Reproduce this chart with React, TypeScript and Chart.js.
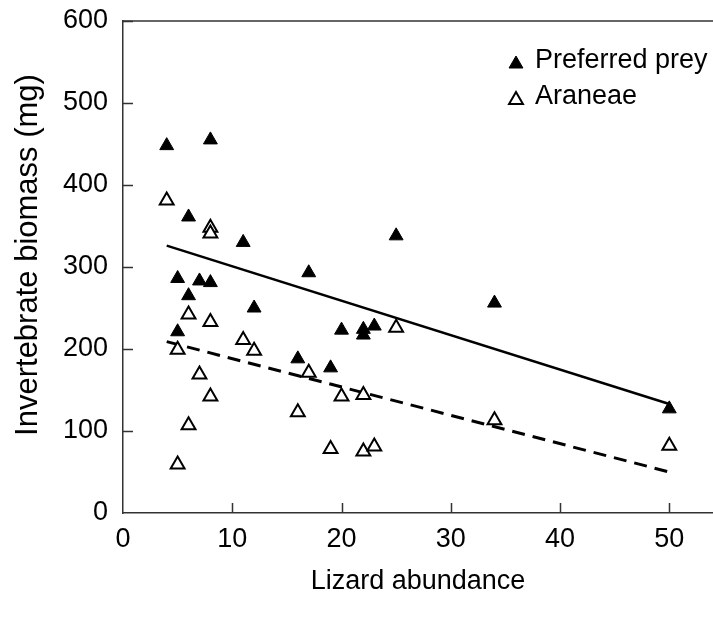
import React, { useEffect, useRef } from "react";
import { Chart, registerables } from "chart.js";

Chart.register(...registerables);

const preyX = [4, 8, 6, 11, 17, 5, 7, 8, 6, 12, 5, 16, 25, 34, 20, 22, 22, 23, 19, 50];
const preyY = [448, 455, 361, 330, 293, 286, 283, 281, 265, 250, 221, 188, 338, 256, 223, 224, 217, 228, 177, 127];

const araneaeX = [4, 8, 8, 6, 8, 11, 12, 5, 7, 8, 6, 5, 16, 17, 25, 20, 22, 19, 22, 23, 34, 50];
const araneaeY = [381, 348, 341, 242, 233, 211, 198, 199, 169, 142, 107, 59, 123, 171, 226, 142, 144, 78, 75, 81, 113, 82];

const fitX = [4, 50];
const preyFitY = [326, 133];
const araneaeFitY = [209, 50];

const xTicks = [0, 10, 20, 30, 40, 50];
const yTicks = [0, 100, 200, 300, 400, 500, 600];
const legendLabels = ["Preferred prey", "Araneae"];
const yTitle = "Invertebrate biomass (mg)";
const xTitle = "Lizard abundance";

const FONT = "'Liberation Sans', Arial, sans-serif";
const AXIS_COLOR = "#333";

function tri(ctx: CanvasRenderingContext2D, x: number, y: number, r: number) {
  ctx.beginPath();
  ctx.moveTo(x, y - r);
  ctx.lineTo(x + r * Math.sin((2 * Math.PI) / 3), y - r * Math.cos((2 * Math.PI) / 3));
  ctx.lineTo(x + r * Math.sin((4 * Math.PI) / 3), y - r * Math.cos((4 * Math.PI) / 3));
  ctx.closePath();
}

const overlay = {
  id: "overlay",
  afterDraw(chart: any) {
    const { ctx, chartArea, scales } = chart;
    const xs = scales.x;
    const ys = scales.y;
    ctx.save();
    ctx.strokeStyle = AXIS_COLOR;
    ctx.lineWidth = 1.5;
    ctx.beginPath();
    ctx.moveTo(chartArea.left, chartArea.top);
    ctx.lineTo(chartArea.right, chartArea.top);
    ctx.stroke();
    ctx.beginPath();
    xTicks.slice(1).forEach((v) => {
      const px = Math.round(xs.getPixelForValue(v)) + 0.5;
      ctx.moveTo(px, chartArea.bottom);
      ctx.lineTo(px, chartArea.bottom - 10);
    });
    yTicks.slice(1).forEach((v) => {
      const py = Math.round(ys.getPixelForValue(v)) + 0.5;
      ctx.moveTo(chartArea.left, py);
      ctx.lineTo(chartArea.left + 10, py);
    });
    ctx.stroke();

    // y title
    ctx.save();
    ctx.translate(28.5, 255);
    ctx.rotate(-Math.PI / 2);
    ctx.font = `31px ${FONT}`;
    ctx.textAlign = "center";
    ctx.textBaseline = "middle";
    ctx.fillStyle = "#000";
    ctx.fillText(yTitle, 0, 0);
    ctx.restore();

    // legend
    const lx = 516;
    const rows = [64, 100];
    ctx.font = `27px ${FONT}`;
    ctx.textAlign = "left";
    ctx.textBaseline = "middle";
    rows.forEach((ry, i) => {
      tri(ctx, lx, ry, 8);
      if (i === 0) {
        ctx.fillStyle = "#000";
        ctx.fill();
        ctx.lineWidth = 1;
        ctx.strokeStyle = "#000";
        ctx.stroke();
      } else {
        ctx.fillStyle = "#fff";
        ctx.fill();
        ctx.lineWidth = 2;
        ctx.strokeStyle = "#000";
        ctx.stroke();
      }
      ctx.fillStyle = "#000";
      ctx.fillText(legendLabels[i], 535, ry - 3);
    });
    ctx.restore();
  },
};

export default function App() {
  const ref = useRef<HTMLCanvasElement | null>(null);
  useEffect(() => {
    if (!ref.current) return;
    const chart = new Chart(ref.current, {
      type: "scatter",
      data: {
        datasets: [
          {
            label: legendLabels[0],
            data: preyX.map((x, i) => ({ x, y: preyY[i] })),
            pointStyle: "triangle",
            pointRadius: 8,
            backgroundColor: "#000",
            borderColor: "#000",
            borderWidth: 1,
            order: 1,
          },
          {
            label: legendLabels[1],
            data: araneaeX.map((x, i) => ({ x, y: araneaeY[i] })),
            pointStyle: "triangle",
            pointRadius: 8,
            backgroundColor: "#fff",
            borderColor: "#000",
            borderWidth: 2,
            order: 2,
          },
          {
            label: "Prey fit",
            data: fitX.map((x, i) => ({ x, y: preyFitY[i] })),
            showLine: true,
            pointRadius: 0,
            borderColor: "#000",
            borderWidth: 2.5,
            order: 3,
          },
          {
            label: "Araneae fit",
            data: fitX.map((x, i) => ({ x, y: araneaeFitY[i] })),
            showLine: true,
            pointRadius: 0,
            borderColor: "#000",
            borderWidth: 3,
            borderDash: [13, 8],
            order: 4,
          },
        ],
      },
      options: {
        responsive: false,
        animation: false,
        layout: { autoPadding: false, padding: { top: 21, right: 0, left: 0, bottom: 0 } },
        plugins: { legend: { display: false }, tooltip: { enabled: false } },
        scales: {
          x: {
            type: "linear",
            min: 0,
            max: 54,
            afterBuildTicks: (s: any) => {
              s.ticks = xTicks.map((v) => ({ value: v }));
            },
            afterFit: (s: any) => {
              s.height = 110;
              s.paddingLeft = 0;
              s.paddingRight = 0;
            },
            grid: { display: false, drawTicks: false },
            border: { display: true, color: AXIS_COLOR, width: 1.5 },
            ticks: {
              padding: 10,
              color: "#000",
              font: { family: FONT, size: 27 },
              maxRotation: 0,
            },
            title: {
              display: true,
              text: xTitle,
              color: "#000",
              font: { family: FONT, size: 27 },
              padding: { top: 0, bottom: 25 },
            },
          },
          y: {
            type: "linear",
            min: 0,
            max: 600,
            afterBuildTicks: (s: any) => {
              s.ticks = yTicks.map((v) => ({ value: v }));
            },
            afterFit: (s: any) => {
              s.width = 123;
              s.paddingTop = 0;
              s.paddingBottom = 0;
            },
            grid: { display: false, drawTicks: false },
            border: { display: true, color: AXIS_COLOR, width: 1.5 },
            ticks: {
              padding: 15,
              color: "#000",
              font: { family: FONT, size: 27 },
            },
          },
        },
      },
      plugins: [overlay],
    });
    return () => chart.destroy();
  }, []);
  return (
    <div style={{ position: "fixed", left: 0, top: 0, width: 713, height: 623, overflow: "hidden", background: "#fff" }}>
      <canvas ref={ref} width={713} height={623} style={{ display: "block" }} />
    </div>
  );
}
